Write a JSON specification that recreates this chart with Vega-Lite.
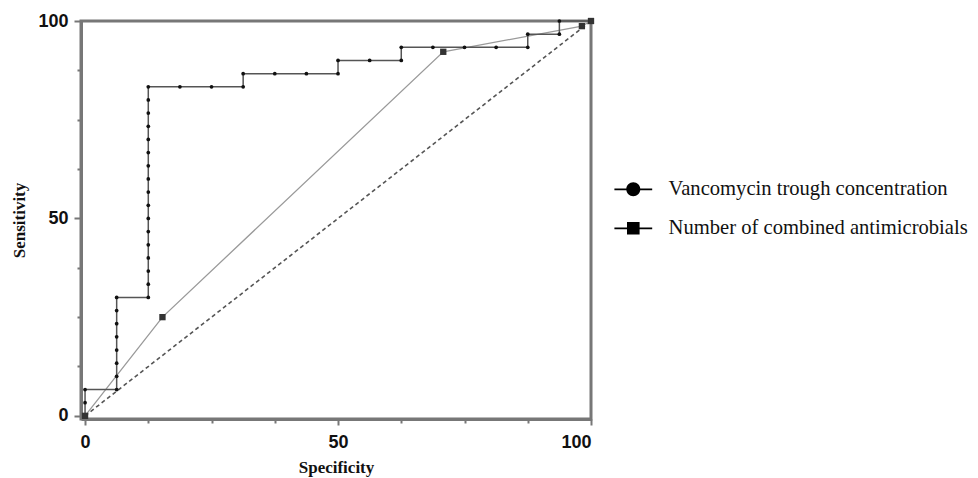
{
  "$schema": "https://vega.github.io/schema/vega-lite/v6.json",
  "autosize": {"type": "none"},
  "width": 510,
  "height": 398,
  "padding": {"left": 81, "top": 21, "right": 387, "bottom": 59},
  "background": "white",
  "config": {
    "view": {"stroke": "#777", "strokeWidth": 3},
    "axis": {
      "domainColor": "#777", "domainWidth": 3, "tickColor": "#777", "tickWidth": 2,
      "grid": false, "labelFont": "Liberation Sans", "labelFontWeight": "bold", "labelFontSize": 18, "labelColor": "#111",
      "titleFont": "Liberation Serif", "titleFontWeight": "bold", "titleFontSize": 17, "titleColor": "#111"
    }
  },
  "datasets": {
    "van": [
      {"spec": 0, "sens": 0}, {"spec": 0, "sens": 3.33}, {"spec": 0, "sens": 6.67},
      {"spec": 6.25, "sens": 6.67}, {"spec": 6.25, "sens": 10}, {"spec": 6.25, "sens": 13.33}, {"spec": 6.25, "sens": 16.67},
      {"spec": 6.25, "sens": 20}, {"spec": 6.25, "sens": 23.33}, {"spec": 6.25, "sens": 26.67}, {"spec": 6.25, "sens": 30},
      {"spec": 12.5, "sens": 30}, {"spec": 12.5, "sens": 33.33}, {"spec": 12.5, "sens": 36.67}, {"spec": 12.5, "sens": 40},
      {"spec": 12.5, "sens": 43.33}, {"spec": 12.5, "sens": 46.67}, {"spec": 12.5, "sens": 50}, {"spec": 12.5, "sens": 53.33},
      {"spec": 12.5, "sens": 56.67}, {"spec": 12.5, "sens": 60}, {"spec": 12.5, "sens": 63.33}, {"spec": 12.5, "sens": 66.67},
      {"spec": 12.5, "sens": 70}, {"spec": 12.5, "sens": 73.33}, {"spec": 12.5, "sens": 76.67}, {"spec": 12.5, "sens": 80},
      {"spec": 12.5, "sens": 83.33}, {"spec": 18.75, "sens": 83.33}, {"spec": 25, "sens": 83.33}, {"spec": 31.25, "sens": 83.33},
      {"spec": 31.25, "sens": 86.67}, {"spec": 37.5, "sens": 86.67}, {"spec": 43.75, "sens": 86.67}, {"spec": 50, "sens": 86.67},
      {"spec": 50, "sens": 90}, {"spec": 56.25, "sens": 90}, {"spec": 62.5, "sens": 90},
      {"spec": 62.5, "sens": 93.33}, {"spec": 68.75, "sens": 93.33}, {"spec": 75, "sens": 93.33}, {"spec": 81.25, "sens": 93.33},
      {"spec": 87.5, "sens": 93.33}, {"spec": 87.5, "sens": 96.67}, {"spec": 93.75, "sens": 96.67},
      {"spec": 93.75, "sens": 100}, {"spec": 100, "sens": 100}
    ],
    "num": [
      {"spec": 0, "sens": 0}, {"spec": 15.3, "sens": 25}, {"spec": 70.8, "sens": 92.2}, {"spec": 98.2, "sens": 98.7}, {"spec": 100, "sens": 100}
    ],
    "diag": [{"spec": 0, "sens": 0}, {"spec": 100, "sens": 100}],
    "leg": [{"series": "Vancomycin trough concentration"}, {"series": "Number of combined antimicrobials"}]
  },
  "encoding": {
    "x": {"field": "spec", "type": "quantitative", "title": "Specificity",
      "scale": {"domain": [-0.8, 100], "nice": false, "zero": false},
      "axis": {"values": [0, 12.5, 25, 37.5, 50, 62.5, 75, 87.5, 100],
        "labelExpr": "datum.value % 50 === 0 ? datum.label : ''",
        "tickSize": {"condition": {"test": "datum.value % 50 === 0", "value": 6}, "value": 4},
        "labelPadding": 8, "titlePadding": 8}},
    "y": {"field": "sens", "type": "quantitative", "title": "Sensitivity",
      "scale": {"domain": [-0.8, 100], "nice": false, "zero": false},
      "axis": {"values": [0, 12.5, 25, 37.5, 50, 62.5, 75, 87.5, 100],
        "labelExpr": "datum.value % 50 === 0 ? datum.label : ''",
        "tickSize": {"condition": {"test": "datum.value % 50 === 0", "value": 7}, "value": 4},
        "labelPadding": 6, "titlePadding": 9}}
  },
  "layer": [
    {"data": {"name": "diag"}, "mark": {"type": "line", "color": "#555", "strokeWidth": 1.6, "strokeDash": [4, 3]}, "encoding": {"order": {"value": null}}},
    {"data": {"name": "num"}, "mark": {"type": "line", "color": "#9a9a9a", "strokeWidth": 1.3}, "encoding": {"order": {"value": null}}},
    {"data": {"name": "van"}, "mark": {"type": "line", "color": "#555", "strokeWidth": 1.5}, "encoding": {"order": {"value": null}}},
    {"data": {"name": "van"}, "mark": {"type": "point", "shape": "circle", "filled": true, "color": "#111", "size": 14, "opacity": 1}},
    {"data": {"name": "num"}, "mark": {"type": "point", "shape": "square", "filled": true, "color": "#333", "size": 40, "opacity": 1}},
    {"data": {"name": "leg"},
      "mark": {"type": "point", "filled": true, "color": "black", "opacity": 0},
      "encoding": {
        "x": {"datum": 50, "type": "quantitative"},
        "y": {"datum": 50, "type": "quantitative"},
        "shape": {"field": "series", "type": "nominal",
          "scale": {"domain": ["Vancomycin trough concentration", "Number of combined antimicrobials"],
            "range": ["M-2.7,-0.13H2.7V0.13H-2.7ZM1,0A1,1 0 1,1 -1,0A1,1 0 1,1 1,0Z", "M-2.7,-0.13H2.7V0.13H-2.7ZM-0.9,-0.9H0.9V0.9H-0.9Z"]},
          "legend": {"title": null, "orient": "none", "legendX": 542, "legendY": 158, "padding": 0,
            "symbolSize": 196, "symbolOpacity": 1,
            "labelFont": "Liberation Serif", "labelFontSize": 20.6, "labelColor": "#111", "labelOffset": 25, "rowPadding": 18, "labelLimit": 400,
            "encode": {"symbols": {"update": {
              "fill": {"value": "black"}, "stroke": {"value": "black"}, "strokeWidth": {"value": 0.5}, "opacity": {"value": 1}, "fillOpacity": {"value": 1}, "strokeOpacity": {"value": 1}}}}}}
      }}
  ]
}
